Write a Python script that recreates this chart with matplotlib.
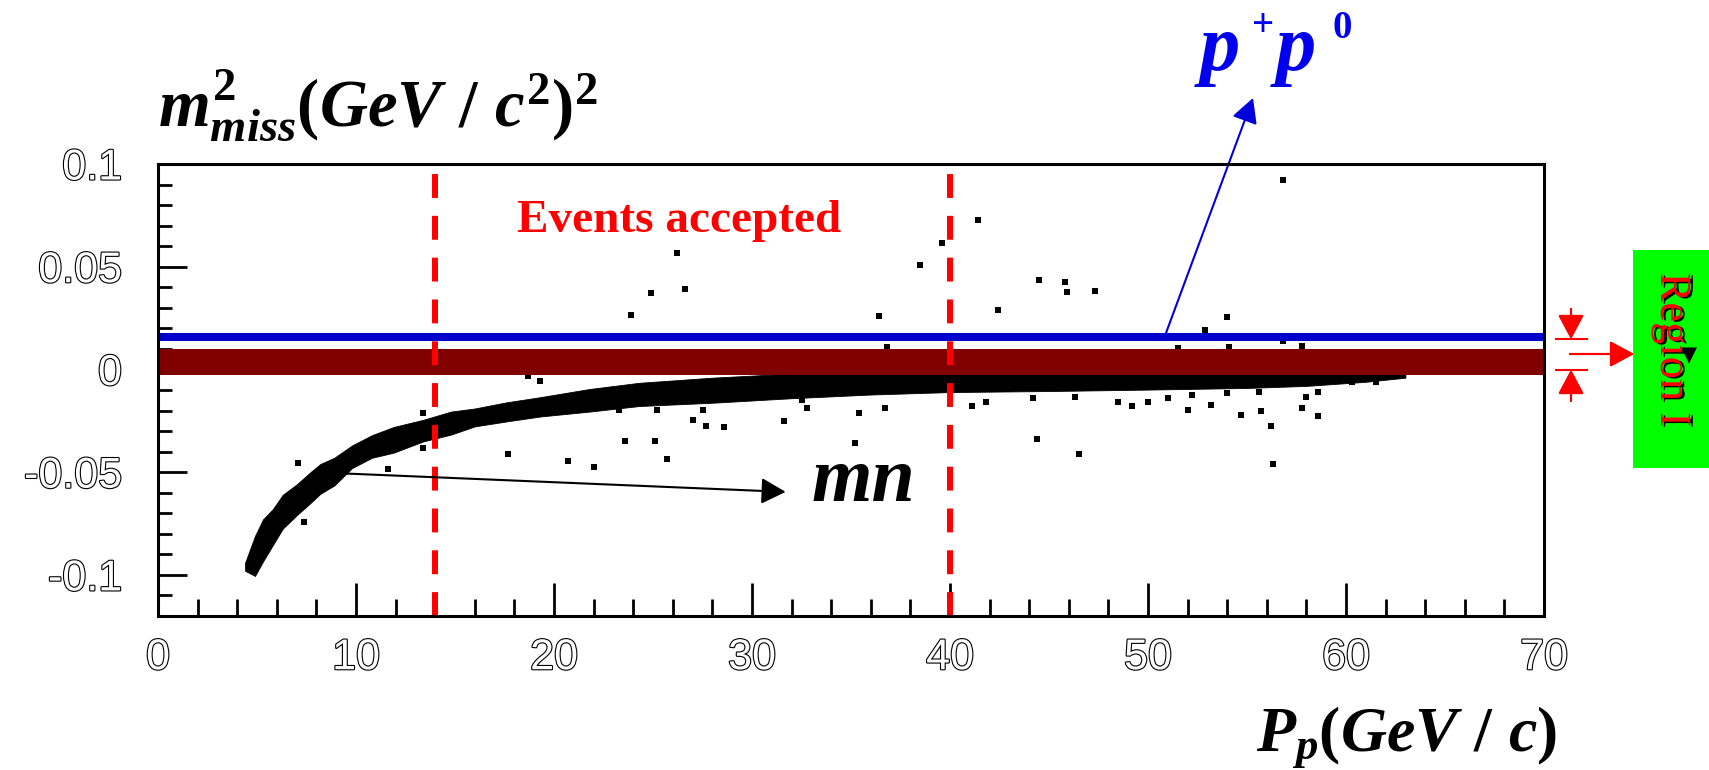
import matplotlib
matplotlib.use("Agg")
import matplotlib.pyplot as plt
import matplotlib.patheffects as pe
from matplotlib.lines import Line2D
from matplotlib.patches import Rectangle
from matplotlib.ticker import MultipleLocator

# bold italic serif for all math labels
plt.rcParams["mathtext.fontset"] = "custom"
plt.rcParams["mathtext.it"] = "Liberation Serif:italic:bold"
plt.rcParams["mathtext.rm"] = "Liberation Serif:bold"
plt.rcParams["mathtext.bf"] = "Liberation Serif:bold"

# --- data -------------------------------------------------------------
# main (m n) band: momentum and lower / upper edge of the dense region
band_p = [4.4, 4.9, 5.3, 5.8, 6.3, 7.0, 7.7, 8.2, 8.9, 9.8, 10.8, 11.9, 13.4,
          14.8, 16.0, 17.6, 19.3, 21.8, 24.3, 28.0, 32.0, 36.0, 40.0, 45.0,
          50.0, 55.0, 58.0, 61.0, 63.0]
band_lo = [-0.098, -0.1005, -0.0935, -0.0855, -0.0775, -0.071, -0.065, -0.0605,
           -0.0565, -0.048, -0.043, -0.0405, -0.035, -0.0317, -0.0277, -0.0253,
           -0.0229, -0.0205, -0.0178, -0.0162, -0.014, -0.0122, -0.011, -0.0105,
           -0.0098, -0.009, -0.008, -0.006, -0.004]
band_hi = [-0.094, -0.081, -0.073, -0.068, -0.061, -0.056, -0.050, -0.046,
           -0.043, -0.037, -0.032, -0.028, -0.0245, -0.0205, -0.019, -0.016,
           -0.0135, -0.0095, -0.0065, -0.004, -0.002, -0.002, -0.002, -0.002,
           -0.002, -0.002, -0.002, -0.002, -0.002]

# isolated events outside the band
stray_p = [23.9, 24.9, 26.2, 26.6, 36.4, 36.8, 38.5, 39.6, 41.4, 42.4, 44.5,
           45.8, 45.9, 47.3, 51.5, 52.9, 54.0, 54.1, 56.8, 56.8, 57.8,
           7.05, 7.37, 11.6, 13.4, 13.4, 17.7, 18.7, 19.3, 20.7, 22.0, 23.6,
           25.1, 25.7, 27.0, 27.7, 28.6, 31.6, 35.2, 35.4, 36.7, 41.1, 44.4,
           46.5, 48.5, 49.2, 50.0, 51.0, 52.0, 53.2, 54.7, 55.7, 56.2, 56.3,
           57.8, 58.0, 58.6,
           41.8, 52.2, 54.0, 55.6, 58.6, 60.3, 61.5, 44.2, 46.3, 32.5, 32.8,
           27.5, 25.2, 23.3]
stray_m2 = [0.0265, 0.037, 0.0568, 0.039, 0.0258, 0.011, 0.051, 0.0617, 0.0726,
            0.029, 0.0437, 0.0428, 0.0375, 0.038, 0.0106, 0.019, 0.0255, 0.011,
            0.0923, 0.014, 0.0115,
            -0.0453, -0.0742, -0.0486, -0.0381, -0.021, -0.0413, -0.003,
            -0.0056, -0.0446, -0.0477, -0.035, -0.035, -0.0437, -0.0245,
            -0.0277, -0.028, -0.025, -0.036, -0.0212, -0.0188, -0.018, -0.0337,
            -0.041, -0.0157, -0.018, -0.0157, -0.014, -0.0196, -0.0173, -0.022,
            -0.0202, -0.0274, -0.046, -0.0188, -0.0133, -0.0226,
            -0.0157, -0.0125, -0.0117, -0.0109, -0.0109, -0.0061, -0.0061,
            -0.0141, -0.0133, -0.015, -0.0189, -0.0197, -0.0197, -0.0197]

# selection cuts
cut_p = [14.0, 40.0]
region_lo, region_hi = -0.0025, 0.010
pipi_line = 0.016

xticks = [0, 10, 20, 30, 40, 50, 60, 70]
yticks = [-0.1, -0.05, 0, 0.05, 0.1]
ytick_labels = ["-0.1", "-0.05", "0", "0.05", "0.1"]

# --- figure -----------------------------------------------------------
W, H = 1709, 770
fig = plt.figure(figsize=(W / 100, H / 100), dpi=100)
ax = fig.add_axes([158 / W, 1 - 616 / H, 1386 / W, 452 / H])


def fxy(x, y):
    """pixel position (from top-left) -> figure fraction"""
    return x / W, 1 - y / H


ax.fill_between(band_p, band_lo, band_hi, color="black", lw=0.6, zorder=2)
ax.scatter(stray_p, stray_m2, marker="s", s=14, color="black", lw=0, zorder=2)

ax.axhspan(region_lo, region_hi, color="#800000", lw=0, zorder=3)
ax.axhline(pipi_line, color="#0000CC", lw=5.8, zorder=3)
for p in cut_p:
    ax.axvline(p, color="red", lw=4.3, dashes=(4.0, 3.0), zorder=4)

ax.set_xlim(0, 70)
ax.set_ylim(-0.12, 0.1)

for side in ["left", "right", "top", "bottom"]:
    ax.spines[side].set_linewidth(2.2)
    ax.spines[side].set_zorder(5)

ax.set_xticks(xticks)
ax.set_yticks(yticks)
ax.set_yticklabels(ytick_labels)
ax.xaxis.set_minor_locator(MultipleLocator(2))
ax.yaxis.set_minor_locator(MultipleLocator(0.01))
ax.tick_params(axis="x", which="major", direction="in", length=24, width=2, pad=16)
ax.tick_params(axis="x", which="minor", direction="in", length=12, width=2)
ax.tick_params(axis="y", which="major", direction="in", length=21, width=2, pad=26)
ax.tick_params(axis="y", which="minor", direction="in", length=10, width=2)

# hollow outline digits
for lab in ax.get_xticklabels() + ax.get_yticklabels():
    lab.set_fontfamily(["Liberation Sans Narrow", "Liberation Sans"])
    lab.set_fontsize(31)
    lab.set_color("white")
    lab.set_path_effects([pe.withStroke(linewidth=1.6, foreground="black")])

# axis titles
fig.text(*fxy(158, 127), r"$m^{2}_{miss}(GeV\ /\ c^{2})^{2}$",
         fontsize=48, ha="left", va="baseline")
fig.text(*fxy(1557, 750), r"$P_{p}(GeV\ /\ c)$",
         fontsize=46, ha="right", va="baseline")

# labels inside the plot
ax.text(26.3, 0.067, "Events accepted", color="red", fontsize=34,
        fontweight="bold", fontfamily="Liberation Serif", ha="center",
        va="baseline", zorder=6)
ax.text(33.0, -0.064, "mn", fontsize=56, fontweight="bold", style="italic",
        fontfamily="Liberation Serif", ha="left", va="baseline", zorder=6)
ax.annotate("", xy=(31.7, -0.0596), xytext=(9.1, -0.0505),
            arrowprops=dict(arrowstyle="-|>,head_length=0.75,head_width=0.4",
                            mutation_scale=20, color="black", lw=1.5,
                            shrinkA=0, shrinkB=0), zorder=6)

# pi+ pi0 label with arrow
blue = "#0000EE"
serif_bi = dict(fontfamily="Liberation Serif", fontweight="bold", color=blue)
fig.text(*fxy(1200, 70), "p", fontsize=58, style="italic", **serif_bi)
fig.text(*fxy(1252, 36), "+", fontsize=28, **serif_bi)
fig.text(*fxy(1276, 70), "p", fontsize=58, style="italic", **serif_bi)
fig.text(*fxy(1332, 38), "0", fontsize=28, **serif_bi)
ax.annotate("", xy=fxy(1253, 98), xycoords="figure fraction",
            xytext=(50.8, 0.0149), textcoords="data",
            arrowprops=dict(arrowstyle="-|>,head_length=0.75,head_width=0.4",
                            mutation_scale=20, color="#0000DD", lw=1.5,
                            shrinkA=0, shrinkB=0), annotation_clip=False)

# region I marker on the right
red_kw = dict(color="red", lw=1.5, transform=fig.transFigure)
for yy in (339, 370):
    x0, y0 = fxy(1556, yy)
    x1, _ = fxy(1587, yy)
    fig.add_artist(Line2D([x0, x1], [y0, y0], **red_kw))
arrow_kw = dict(arrowstyle="-|>,head_length=0.75,head_width=0.4",
                mutation_scale=20, color="red", lw=1.5, shrinkA=0, shrinkB=0)
fig.add_artist(plt.annotate("", xy=fxy(1571, 339), xycoords="figure fraction",
                            xytext=fxy(1571, 309), arrowprops=arrow_kw))
fig.add_artist(plt.annotate("", xy=fxy(1571, 370), xycoords="figure fraction",
                            xytext=fxy(1571, 401), arrowprops=arrow_kw))
fig.add_artist(plt.annotate("", xy=fxy(1634, 354), xycoords="figure fraction",
                            xytext=fxy(1570, 354), arrowprops=arrow_kw))

bx, by = fxy(1633, 468)
fig.add_artist(Rectangle((bx, by), 76 / W, 218 / H, transform=fig.transFigure,
                         facecolor="#00FF00", edgecolor="none"))
fig.text(*fxy(1672, 350), "Region I", rotation=-90, color="red", fontsize=32,
         fontfamily="Liberation Serif", ha="center", va="center",
         path_effects=[pe.withSimplePatchShadow(offset=(2, -1),
                                                shadow_rgbFace="black", alpha=1)])
fig.text(*fxy(1689, 355), "\u25bc", color="black", fontsize=15,
         fontfamily="DejaVu Sans", ha="center", va="center")

fig.savefig("out.png", dpi=100)
